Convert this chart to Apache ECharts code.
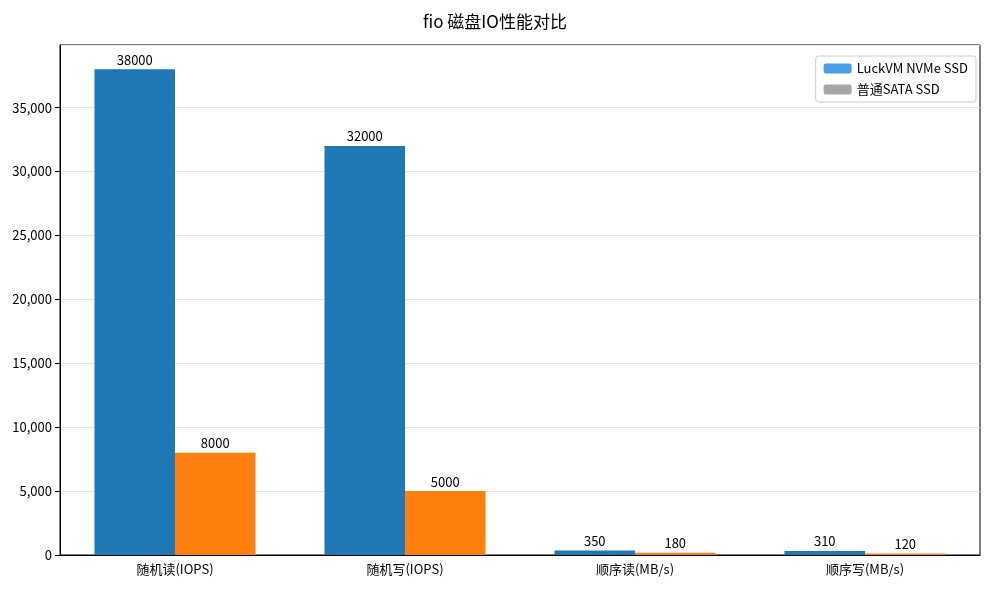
<!DOCTYPE html><html><head><meta charset="utf-8"><script src="https://cdn.jsdelivr.net/npm/echarts@6/dist/echarts.min.js"></script></head><body style="margin:0"><div id="c" style="width:990px;height:590px"></div><script>
const categories=['随机读(IOPS)','随机写(IOPS)','顺序读(MB/s)','顺序写(MB/s)'];
const nvme=[38000,32000,350,310];
const sata=[8000,5000,180,120];
const F='"Noto Sans CJK SC","Noto Sans",sans-serif';
const c=echarts.init(document.getElementById('c'));
const lbl={show:true,position:'top',color:'#000',fontSize:13,fontFamily:F,distance:3};
c.setOption({animation:false,
title:{text:'fio 磁盘IO性能对比',left:'center',top:8,textStyle:{fontSize:17,fontWeight:'normal',color:'#000',fontFamily:F}},
legend:{right:14,top:56,orient:'vertical',itemWidth:28,itemHeight:10,itemGap:8,padding:[6,8],borderColor:'#ccc',borderWidth:1,borderRadius:3,textStyle:{fontSize:13,fontFamily:F,color:'#000'},
data:[{name:'LuckVM NVMe SSD',itemStyle:{color:'#4a9ee8'}},{name:'普通SATA SSD',itemStyle:{color:'#a6a6a6'}}]},
grid:{left:60,right:10,top:45,bottom:35,show:true,borderColor:'#000',borderWidth:1},
xAxis:{type:'category',data:categories,axisLine:{lineStyle:{color:'#000'}},axisTick:{alignWithLabel:true,lineStyle:{color:'#000'}},axisLabel:{color:'#000',fontSize:13,fontFamily:F}},
yAxis:{type:'value',min:0,max:39900,interval:5000,axisLine:{show:true,lineStyle:{color:'#000'}},axisTick:{show:true,lineStyle:{color:'#000'}},axisLabel:{color:'#000',fontSize:13,fontFamily:F,showMaxLabel:false},splitLine:{lineStyle:{color:'#e6e6e6'}}},
series:[{name:'LuckVM NVMe SSD',type:'bar',data:nvme,barWidth:'35%',barGap:'0%',itemStyle:{color:'#1f77b4'},label:lbl},
{name:'普通SATA SSD',type:'bar',data:sata,barWidth:'35%',itemStyle:{color:'#ff7f0e'},label:lbl}]});
</script></body></html>
